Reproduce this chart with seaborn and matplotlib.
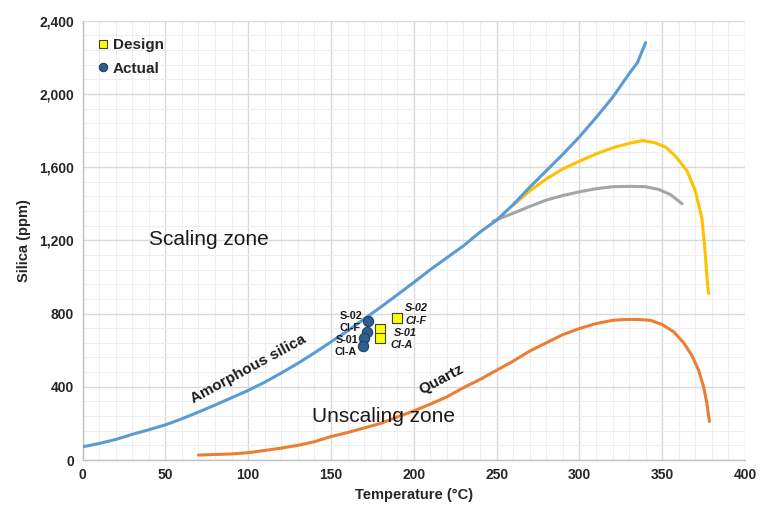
import numpy as np
import pandas as pd
import matplotlib
matplotlib.use("Agg")
import matplotlib.pyplot as plt
import seaborn as sns
from matplotlib.ticker import MultipleLocator, FuncFormatter
from matplotlib.lines import Line2D

# ---------------- data ----------------
amorph_T = [0, 10, 20, 30, 40, 50, 60, 70, 80, 90, 100, 110, 120, 130, 140, 150, 160, 170,
            180, 190, 200, 210, 220, 230, 240, 250, 260, 270, 280, 290, 300, 310, 320,
            330, 335, 340]
amorph_Si = [72, 90, 112, 140, 165, 192, 225, 262, 300, 340, 380, 425, 475, 528, 585, 645,
             705, 770, 835, 902, 970, 1040, 1105, 1170, 1245, 1310, 1395, 1490, 1580, 1670,
             1765, 1870, 1980, 2110, 2170, 2280]

yellow_T = [260, 270, 280, 290, 300, 310, 320, 330, 338, 345, 352, 358, 365, 370, 374, 376, 377, 378]
yellow_Si = [1392, 1470, 1535, 1590, 1632, 1672, 1705, 1730, 1745, 1735, 1710, 1660, 1580,
             1470, 1320, 1130, 1000, 910]

grey_T = [248, 260, 270, 280, 290, 300, 310, 320, 330, 340, 348, 355, 362]
grey_Si = [1305, 1348, 1385, 1420, 1445, 1465, 1482, 1493, 1495, 1493, 1478, 1450, 1400]

quartz_T = [70, 80, 90, 100, 110, 120, 130, 140, 150, 160, 170, 180, 190, 200, 210, 220, 230,
            240, 250, 260, 270, 280, 290, 300, 310, 320, 328, 335, 343, 350, 357, 363, 368,
            372, 375, 377, 378.5]
quartz_Si = [27, 30, 33, 40, 52, 65, 80, 100, 128, 150, 175, 200, 235, 268, 305, 345, 395,
             440, 490, 540, 595, 640, 685, 718, 745, 763, 768, 768, 763, 740, 700, 640, 570,
             490, 400, 310, 210]

design_names = ["S-02", "CI-F", "S-01", "CI-A"]
design_T = [189.7, 189.7, 179.8, 179.8]
design_Si = [777, 777, 716, 665]

actual_names = ["S-02", "CI-F", "S-01", "CI-A"]
actual_T = [172.2, 171.6, 170.2, 169.6]
actual_Si = [757, 702, 666, 621]

x_ticks = [0, 50, 100, 150, 200, 250, 300, 350, 400]
y_ticks = [0, 400, 800, 1200, 1600, 2000, 2400]

# ---------------- style ----------------
sns.set_theme(style="white")
plt.rcParams['font.family'] = ['Liberation Sans', 'DejaVu Sans']

fig = plt.figure(figsize=(7.68, 5.09), dpi=100)
ax = fig.add_axes([82.5 / 768, 1 - 460 / 509, (745 - 82.5) / 768, (460 - 20.7) / 509])

# grid
ax.xaxis.set_major_locator(MultipleLocator(50))
ax.xaxis.set_minor_locator(MultipleLocator(10))
ax.yaxis.set_major_locator(MultipleLocator(400))
ax.yaxis.set_minor_locator(MultipleLocator(80))
ax.grid(which="major", color="#d9d9d9", linewidth=1.0, zorder=0)
ax.grid(which="minor", color="#eeeeee", linewidth=0.8, zorder=0)
ax.set_axisbelow(True)

lw = 2.2
sns.lineplot(x=amorph_T, y=amorph_Si, ax=ax, color="#5b9bd5", linewidth=lw,
             sort=False, estimator=None, zorder=3)
sns.lineplot(x=grey_T, y=grey_Si, ax=ax, color="#a5a5a5", linewidth=lw,
             sort=False, estimator=None, zorder=2)
sns.lineplot(x=yellow_T, y=yellow_Si, ax=ax, color="#ffc000", linewidth=lw,
             sort=False, estimator=None, zorder=2)
sns.lineplot(x=quartz_T, y=quartz_Si, ax=ax, color="#ed7d31", linewidth=lw,
             sort=False, estimator=None, zorder=3)

sns.scatterplot(x=design_T, y=design_Si, ax=ax, marker="s", s=55, color="#ffff00",
                edgecolor="#404040", linewidth=0.8, zorder=5)
sns.scatterplot(x=actual_T, y=actual_Si, ax=ax, marker="o", s=55, color="#2e5e8e",
                edgecolor="#1f3f66", linewidth=0.8, zorder=5)

# point labels
lab_kw = dict(fontsize=7.8, fontweight="bold", color="#1a1a1a", va="center", zorder=6)
act_lab_pos = [(168.8, 787), (167.8, 722), (166.4, 657), (165.8, 590)]
for name, (tx, ty) in zip(actual_names, act_lab_pos):
    ax.text(tx, ty, name, ha="right", **lab_kw)
des_lab_pos = [(194.7, 828), (194.7, 758), (188.0, 692), (185.7, 626)]
for name, (tx, ty) in zip(design_names, des_lab_pos):
    ax.text(tx, ty, name, ha="left", style="italic", **lab_kw)

# zone & curve annotations
ax.text(76.4, 1206, "Scaling zone", fontsize=15, ha="center", va="center", color="#1a1a1a")
ax.text(181.7, 237, "Unscaling zone", fontsize=15, ha="center", va="center", color="#1a1a1a")
ax.text(100, 495, "Amorphous silica", fontsize=11, fontweight="bold", rotation=28.5,
        ha="center", va="center", rotation_mode="anchor", color="#1a1a1a")
ax.text(216.9, 442, "Quartz", fontsize=11, fontweight="bold", rotation=28,
        ha="center", va="center", rotation_mode="anchor", color="#1a1a1a")

# axes
ax.set_xlim(0, 400)
ax.set_ylim(0, 2400)
ax.set_xticks(x_ticks)
ax.set_yticks(y_ticks)
ax.yaxis.set_major_formatter(FuncFormatter(lambda v, p: f"{int(v):,}"))
ax.tick_params(axis="both", which="both", length=0, labelsize=10, pad=6)
for lbl in ax.get_xticklabels() + ax.get_yticklabels():
    lbl.set_fontweight("bold")
ax.set_xlabel("Temperature (°C)", fontsize=10.5, fontweight="bold", labelpad=4)
ax.set_ylabel("Silica (ppm)", fontsize=10.5, fontweight="bold", labelpad=6)
for side in ["top", "right"]:
    ax.spines[side].set_visible(False)
for side in ["left", "bottom"]:
    ax.spines[side].set_color("#bfbfbf")
    ax.spines[side].set_linewidth(1.0)

handles = [
    Line2D([], [], marker="s", linestyle="none", markersize=6, markerfacecolor="#ffff00",
           markeredgecolor="#404040", markeredgewidth=0.8, label="Design"),
    Line2D([], [], marker="o", linestyle="none", markersize=6, markerfacecolor="#2e5e8e",
           markeredgecolor="#1f3f66", markeredgewidth=0.8, label="Actual"),
]
leg = ax.legend(handles=handles, loc="upper left", bbox_to_anchor=(0.022, 0.96),
                frameon=False, handletextpad=0.25, handlelength=0.8, labelspacing=0.62,
                prop={"weight": "bold", "size": 11}, borderaxespad=0.0, borderpad=0.0)

fig.savefig("out.png", dpi=100)
